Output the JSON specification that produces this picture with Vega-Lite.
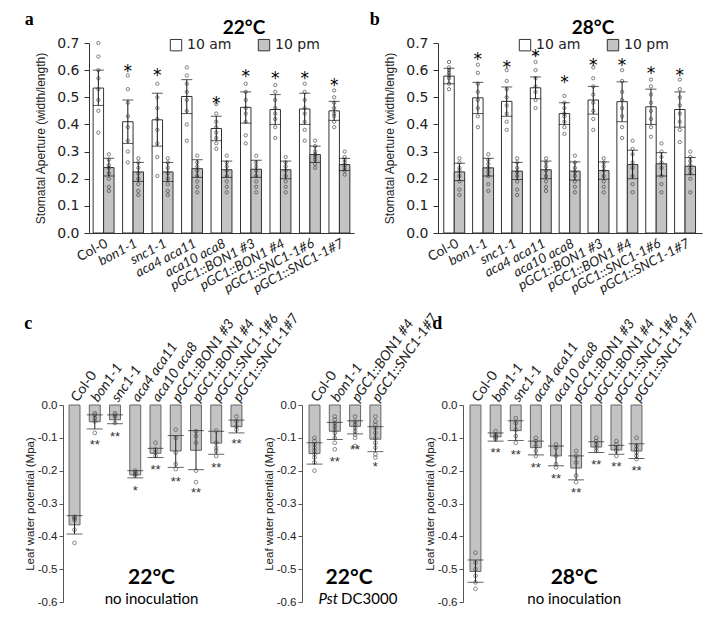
{
  "$schema": "https://vega.github.io/schema/vega-lite/v6.json",
  "padding": {"left": 17, "top": 11, "right": 5, "bottom": 5},
  "background": "white",
  "config": {
    "view": {"stroke": null},
    "font": "Liberation Sans",
    "axis": {"grid": false, "domainColor": "#333", "tickColor": "#333", "labelColor": "#222", "titleColor": "#222", "titleFontWeight": "normal"},
    "axisY": {"labelOverlap": false}
  },
  "datasets": {
    "ab": [
      {"p":"a","g":"Col-0","t":"10 am","m":0.534,"lo":0.47,"hi":0.60},
      {"p":"a","g":"Col-0","t":"10 pm","m":0.241,"lo":0.21,"hi":0.275},
      {"p":"a","g":"bon1-1","t":"10 am","m":0.41,"lo":0.33,"hi":0.49,"s":0.609},
      {"p":"a","g":"bon1-1","t":"10 pm","m":0.225,"lo":0.19,"hi":0.26},
      {"p":"a","g":"snc1-1","t":"10 am","m":0.417,"lo":0.32,"hi":0.515,"s":0.592},
      {"p":"a","g":"snc1-1","t":"10 pm","m":0.225,"lo":0.19,"hi":0.26},
      {"p":"a","g":"aca4 aca11","t":"10 am","m":0.503,"lo":0.44,"hi":0.565},
      {"p":"a","g":"aca4 aca11","t":"10 pm","m":0.237,"lo":0.205,"hi":0.27},
      {"p":"a","g":"aca10 aca8","t":"10 am","m":0.385,"lo":0.34,"hi":0.43,"s":0.489},
      {"p":"a","g":"aca10 aca8","t":"10 pm","m":0.233,"lo":0.205,"hi":0.265},
      {"p":"a","g":"pGC1::BON1 #3","t":"10 am","m":0.463,"lo":0.405,"hi":0.52,"s":0.59},
      {"p":"a","g":"pGC1::BON1 #3","t":"10 pm","m":0.235,"lo":0.205,"hi":0.268},
      {"p":"a","g":"pGC1::BON1 #4","t":"10 am","m":0.455,"lo":0.40,"hi":0.51,"s":0.583},
      {"p":"a","g":"pGC1::BON1 #4","t":"10 pm","m":0.233,"lo":0.20,"hi":0.265},
      {"p":"a","g":"pGC1::SNC1-1#6","t":"10 am","m":0.457,"lo":0.40,"hi":0.515,"s":0.583},
      {"p":"a","g":"pGC1::SNC1-1#6","t":"10 pm","m":0.289,"lo":0.26,"hi":0.32},
      {"p":"a","g":"pGC1::SNC1-1#7","t":"10 am","m":0.45,"lo":0.415,"hi":0.485,"s":0.556},
      {"p":"a","g":"pGC1::SNC1-1#7","t":"10 pm","m":0.252,"lo":0.23,"hi":0.275},
      {"p":"b","g":"Col-0","t":"10 am","m":0.578,"lo":0.55,"hi":0.607},
      {"p":"b","g":"Col-0","t":"10 pm","m":0.225,"lo":0.193,"hi":0.257},
      {"p":"b","g":"bon1-1","t":"10 am","m":0.498,"lo":0.44,"hi":0.555,"s":0.651},
      {"p":"b","g":"bon1-1","t":"10 pm","m":0.24,"lo":0.21,"hi":0.275},
      {"p":"b","g":"snc1-1","t":"10 am","m":0.485,"lo":0.43,"hi":0.538,"s":0.624},
      {"p":"b","g":"snc1-1","t":"10 pm","m":0.228,"lo":0.197,"hi":0.26},
      {"p":"b","g":"aca4 aca11","t":"10 am","m":0.535,"lo":0.495,"hi":0.575,"s":0.663},
      {"p":"b","g":"aca4 aca11","t":"10 pm","m":0.233,"lo":0.20,"hi":0.265},
      {"p":"b","g":"aca10 aca8","t":"10 am","m":0.44,"lo":0.40,"hi":0.48,"s":0.569},
      {"p":"b","g":"aca10 aca8","t":"10 pm","m":0.228,"lo":0.195,"hi":0.262},
      {"p":"b","g":"pGC1::BON1 #3","t":"10 am","m":0.49,"lo":0.438,"hi":0.54,"s":0.63},
      {"p":"b","g":"pGC1::BON1 #3","t":"10 pm","m":0.23,"lo":0.198,"hi":0.262},
      {"p":"b","g":"pGC1::BON1 #4","t":"10 am","m":0.484,"lo":0.41,"hi":0.557,"s":0.63},
      {"p":"b","g":"pGC1::BON1 #4","t":"10 pm","m":0.252,"lo":0.20,"hi":0.305},
      {"p":"b","g":"pGC1::SNC1-1#6","t":"10 am","m":0.465,"lo":0.40,"hi":0.53,"s":0.60},
      {"p":"b","g":"pGC1::SNC1-1#6","t":"10 pm","m":0.255,"lo":0.21,"hi":0.296},
      {"p":"b","g":"pGC1::SNC1-1#7","t":"10 am","m":0.455,"lo":0.39,"hi":0.52,"s":0.593},
      {"p":"b","g":"pGC1::SNC1-1#7","t":"10 pm","m":0.246,"lo":0.215,"hi":0.278}
    ],
    "abd": [
      {"p":"a","g":"Col-0","t":"10 am","v":0.70},{"p":"a","g":"Col-0","t":"10 am","v":0.65},{"p":"a","g":"Col-0","t":"10 am","v":0.60},{"p":"a","g":"Col-0","t":"10 am","v":0.57},{"p":"a","g":"Col-0","t":"10 am","v":0.53},{"p":"a","g":"Col-0","t":"10 am","v":0.49},{"p":"a","g":"Col-0","t":"10 am","v":0.45},{"p":"a","g":"Col-0","t":"10 am","v":0.37},
      {"p":"a","g":"Col-0","t":"10 pm","v":0.29},{"p":"a","g":"Col-0","t":"10 pm","v":0.27},{"p":"a","g":"Col-0","t":"10 pm","v":0.25},{"p":"a","g":"Col-0","t":"10 pm","v":0.24},{"p":"a","g":"Col-0","t":"10 pm","v":0.22},{"p":"a","g":"Col-0","t":"10 pm","v":0.20},{"p":"a","g":"Col-0","t":"10 pm","v":0.17},{"p":"a","g":"Col-0","t":"10 pm","v":0.155},
      {"p":"a","g":"bon1-1","t":"10 am","v":0.58},{"p":"a","g":"bon1-1","t":"10 am","v":0.53},{"p":"a","g":"bon1-1","t":"10 am","v":0.48},{"p":"a","g":"bon1-1","t":"10 am","v":0.43},{"p":"a","g":"bon1-1","t":"10 am","v":0.39},{"p":"a","g":"bon1-1","t":"10 am","v":0.34},{"p":"a","g":"bon1-1","t":"10 am","v":0.30},{"p":"a","g":"bon1-1","t":"10 am","v":0.26},
      {"p":"a","g":"bon1-1","t":"10 pm","v":0.275},{"p":"a","g":"bon1-1","t":"10 pm","v":0.26},{"p":"a","g":"bon1-1","t":"10 pm","v":0.24},{"p":"a","g":"bon1-1","t":"10 pm","v":0.22},{"p":"a","g":"bon1-1","t":"10 pm","v":0.20},{"p":"a","g":"bon1-1","t":"10 pm","v":0.18},{"p":"a","g":"bon1-1","t":"10 pm","v":0.155},{"p":"a","g":"bon1-1","t":"10 pm","v":0.14},
      {"p":"a","g":"snc1-1","t":"10 am","v":0.55},{"p":"a","g":"snc1-1","t":"10 am","v":0.50},{"p":"a","g":"snc1-1","t":"10 am","v":0.46},{"p":"a","g":"snc1-1","t":"10 am","v":0.42},{"p":"a","g":"snc1-1","t":"10 am","v":0.38},{"p":"a","g":"snc1-1","t":"10 am","v":0.33},{"p":"a","g":"snc1-1","t":"10 am","v":0.28},{"p":"a","g":"snc1-1","t":"10 am","v":0.21},
      {"p":"a","g":"snc1-1","t":"10 pm","v":0.275},{"p":"a","g":"snc1-1","t":"10 pm","v":0.26},{"p":"a","g":"snc1-1","t":"10 pm","v":0.24},{"p":"a","g":"snc1-1","t":"10 pm","v":0.22},{"p":"a","g":"snc1-1","t":"10 pm","v":0.20},{"p":"a","g":"snc1-1","t":"10 pm","v":0.18},{"p":"a","g":"snc1-1","t":"10 pm","v":0.155},{"p":"a","g":"snc1-1","t":"10 pm","v":0.14},
      {"p":"a","g":"aca4 aca11","t":"10 am","v":0.61},{"p":"a","g":"aca4 aca11","t":"10 am","v":0.58},{"p":"a","g":"aca4 aca11","t":"10 am","v":0.55},{"p":"a","g":"aca4 aca11","t":"10 am","v":0.52},{"p":"a","g":"aca4 aca11","t":"10 am","v":0.49},{"p":"a","g":"aca4 aca11","t":"10 am","v":0.45},{"p":"a","g":"aca4 aca11","t":"10 am","v":0.40},{"p":"a","g":"aca4 aca11","t":"10 am","v":0.34},
      {"p":"a","g":"aca4 aca11","t":"10 pm","v":0.285},{"p":"a","g":"aca4 aca11","t":"10 pm","v":0.26},{"p":"a","g":"aca4 aca11","t":"10 pm","v":0.245},{"p":"a","g":"aca4 aca11","t":"10 pm","v":0.23},{"p":"a","g":"aca4 aca11","t":"10 pm","v":0.21},{"p":"a","g":"aca4 aca11","t":"10 pm","v":0.19},{"p":"a","g":"aca4 aca11","t":"10 pm","v":0.17},{"p":"a","g":"aca4 aca11","t":"10 pm","v":0.15},
      {"p":"a","g":"aca10 aca8","t":"10 am","v":0.475},{"p":"a","g":"aca10 aca8","t":"10 am","v":0.44},{"p":"a","g":"aca10 aca8","t":"10 am","v":0.41},{"p":"a","g":"aca10 aca8","t":"10 am","v":0.39},{"p":"a","g":"aca10 aca8","t":"10 am","v":0.37},{"p":"a","g":"aca10 aca8","t":"10 am","v":0.35},{"p":"a","g":"aca10 aca8","t":"10 am","v":0.33},{"p":"a","g":"aca10 aca8","t":"10 am","v":0.31},
      {"p":"a","g":"aca10 aca8","t":"10 pm","v":0.285},{"p":"a","g":"aca10 aca8","t":"10 pm","v":0.26},{"p":"a","g":"aca10 aca8","t":"10 pm","v":0.245},{"p":"a","g":"aca10 aca8","t":"10 pm","v":0.23},{"p":"a","g":"aca10 aca8","t":"10 pm","v":0.21},{"p":"a","g":"aca10 aca8","t":"10 pm","v":0.19},{"p":"a","g":"aca10 aca8","t":"10 pm","v":0.17},{"p":"a","g":"aca10 aca8","t":"10 pm","v":0.15},
      {"p":"a","g":"pGC1::BON1 #3","t":"10 am","v":0.55},{"p":"a","g":"pGC1::BON1 #3","t":"10 am","v":0.52},{"p":"a","g":"pGC1::BON1 #3","t":"10 am","v":0.49},{"p":"a","g":"pGC1::BON1 #3","t":"10 am","v":0.46},{"p":"a","g":"pGC1::BON1 #3","t":"10 am","v":0.44},{"p":"a","g":"pGC1::BON1 #3","t":"10 am","v":0.41},{"p":"a","g":"pGC1::BON1 #3","t":"10 am","v":0.36},{"p":"a","g":"pGC1::BON1 #3","t":"10 am","v":0.33},
      {"p":"a","g":"pGC1::BON1 #3","t":"10 pm","v":0.285},{"p":"a","g":"pGC1::BON1 #3","t":"10 pm","v":0.26},{"p":"a","g":"pGC1::BON1 #3","t":"10 pm","v":0.245},{"p":"a","g":"pGC1::BON1 #3","t":"10 pm","v":0.23},{"p":"a","g":"pGC1::BON1 #3","t":"10 pm","v":0.21},{"p":"a","g":"pGC1::BON1 #3","t":"10 pm","v":0.19},{"p":"a","g":"pGC1::BON1 #3","t":"10 pm","v":0.17},{"p":"a","g":"pGC1::BON1 #3","t":"10 pm","v":0.15},
      {"p":"a","g":"pGC1::BON1 #4","t":"10 am","v":0.545},{"p":"a","g":"pGC1::BON1 #4","t":"10 am","v":0.52},{"p":"a","g":"pGC1::BON1 #4","t":"10 am","v":0.49},{"p":"a","g":"pGC1::BON1 #4","t":"10 am","v":0.46},{"p":"a","g":"pGC1::BON1 #4","t":"10 am","v":0.44},{"p":"a","g":"pGC1::BON1 #4","t":"10 am","v":0.42},{"p":"a","g":"pGC1::BON1 #4","t":"10 am","v":0.39},{"p":"a","g":"pGC1::BON1 #4","t":"10 am","v":0.35},
      {"p":"a","g":"pGC1::BON1 #4","t":"10 pm","v":0.28},{"p":"a","g":"pGC1::BON1 #4","t":"10 pm","v":0.26},{"p":"a","g":"pGC1::BON1 #4","t":"10 pm","v":0.245},{"p":"a","g":"pGC1::BON1 #4","t":"10 pm","v":0.23},{"p":"a","g":"pGC1::BON1 #4","t":"10 pm","v":0.21},{"p":"a","g":"pGC1::BON1 #4","t":"10 pm","v":0.19},{"p":"a","g":"pGC1::BON1 #4","t":"10 pm","v":0.17},{"p":"a","g":"pGC1::BON1 #4","t":"10 pm","v":0.15},
      {"p":"a","g":"pGC1::SNC1-1#6","t":"10 am","v":0.55},{"p":"a","g":"pGC1::SNC1-1#6","t":"10 am","v":0.52},{"p":"a","g":"pGC1::SNC1-1#6","t":"10 am","v":0.49},{"p":"a","g":"pGC1::SNC1-1#6","t":"10 am","v":0.46},{"p":"a","g":"pGC1::SNC1-1#6","t":"10 am","v":0.44},{"p":"a","g":"pGC1::SNC1-1#6","t":"10 am","v":0.41},{"p":"a","g":"pGC1::SNC1-1#6","t":"10 am","v":0.38},{"p":"a","g":"pGC1::SNC1-1#6","t":"10 am","v":0.34},
      {"p":"a","g":"pGC1::SNC1-1#6","t":"10 pm","v":0.34},{"p":"a","g":"pGC1::SNC1-1#6","t":"10 pm","v":0.32},{"p":"a","g":"pGC1::SNC1-1#6","t":"10 pm","v":0.30},{"p":"a","g":"pGC1::SNC1-1#6","t":"10 pm","v":0.29},{"p":"a","g":"pGC1::SNC1-1#6","t":"10 pm","v":0.28},{"p":"a","g":"pGC1::SNC1-1#6","t":"10 pm","v":0.27},{"p":"a","g":"pGC1::SNC1-1#6","t":"10 pm","v":0.255},{"p":"a","g":"pGC1::SNC1-1#6","t":"10 pm","v":0.24},
      {"p":"a","g":"pGC1::SNC1-1#7","t":"10 am","v":0.525},{"p":"a","g":"pGC1::SNC1-1#7","t":"10 am","v":0.50},{"p":"a","g":"pGC1::SNC1-1#7","t":"10 am","v":0.48},{"p":"a","g":"pGC1::SNC1-1#7","t":"10 am","v":0.46},{"p":"a","g":"pGC1::SNC1-1#7","t":"10 am","v":0.44},{"p":"a","g":"pGC1::SNC1-1#7","t":"10 am","v":0.43},{"p":"a","g":"pGC1::SNC1-1#7","t":"10 am","v":0.41},{"p":"a","g":"pGC1::SNC1-1#7","t":"10 am","v":0.39},
      {"p":"a","g":"pGC1::SNC1-1#7","t":"10 pm","v":0.30},{"p":"a","g":"pGC1::SNC1-1#7","t":"10 pm","v":0.28},{"p":"a","g":"pGC1::SNC1-1#7","t":"10 pm","v":0.27},{"p":"a","g":"pGC1::SNC1-1#7","t":"10 pm","v":0.26},{"p":"a","g":"pGC1::SNC1-1#7","t":"10 pm","v":0.25},{"p":"a","g":"pGC1::SNC1-1#7","t":"10 pm","v":0.24},{"p":"a","g":"pGC1::SNC1-1#7","t":"10 pm","v":0.23},{"p":"a","g":"pGC1::SNC1-1#7","t":"10 pm","v":0.215},
      {"p":"b","g":"Col-0","t":"10 am","v":0.63},{"p":"b","g":"Col-0","t":"10 am","v":0.61},{"p":"b","g":"Col-0","t":"10 am","v":0.60},{"p":"b","g":"Col-0","t":"10 am","v":0.59},{"p":"b","g":"Col-0","t":"10 am","v":0.58},{"p":"b","g":"Col-0","t":"10 am","v":0.57},{"p":"b","g":"Col-0","t":"10 am","v":0.55},{"p":"b","g":"Col-0","t":"10 am","v":0.53},
      {"p":"b","g":"Col-0","t":"10 pm","v":0.275},{"p":"b","g":"Col-0","t":"10 pm","v":0.26},{"p":"b","g":"Col-0","t":"10 pm","v":0.24},{"p":"b","g":"Col-0","t":"10 pm","v":0.23},{"p":"b","g":"Col-0","t":"10 pm","v":0.21},{"p":"b","g":"Col-0","t":"10 pm","v":0.19},{"p":"b","g":"Col-0","t":"10 pm","v":0.16},{"p":"b","g":"Col-0","t":"10 pm","v":0.14},
      {"p":"b","g":"bon1-1","t":"10 am","v":0.62},{"p":"b","g":"bon1-1","t":"10 am","v":0.59},{"p":"b","g":"bon1-1","t":"10 am","v":0.55},{"p":"b","g":"bon1-1","t":"10 am","v":0.52},{"p":"b","g":"bon1-1","t":"10 am","v":0.49},{"p":"b","g":"bon1-1","t":"10 am","v":0.46},{"p":"b","g":"bon1-1","t":"10 am","v":0.43},{"p":"b","g":"bon1-1","t":"10 am","v":0.39},
      {"p":"b","g":"bon1-1","t":"10 pm","v":0.29},{"p":"b","g":"bon1-1","t":"10 pm","v":0.27},{"p":"b","g":"bon1-1","t":"10 pm","v":0.255},{"p":"b","g":"bon1-1","t":"10 pm","v":0.24},{"p":"b","g":"bon1-1","t":"10 pm","v":0.225},{"p":"b","g":"bon1-1","t":"10 pm","v":0.21},{"p":"b","g":"bon1-1","t":"10 pm","v":0.18},{"p":"b","g":"bon1-1","t":"10 pm","v":0.155},
      {"p":"b","g":"snc1-1","t":"10 am","v":0.60},{"p":"b","g":"snc1-1","t":"10 am","v":0.56},{"p":"b","g":"snc1-1","t":"10 am","v":0.53},{"p":"b","g":"snc1-1","t":"10 am","v":0.50},{"p":"b","g":"snc1-1","t":"10 am","v":0.47},{"p":"b","g":"snc1-1","t":"10 am","v":0.44},{"p":"b","g":"snc1-1","t":"10 am","v":0.41},{"p":"b","g":"snc1-1","t":"10 am","v":0.38},
      {"p":"b","g":"snc1-1","t":"10 pm","v":0.275},{"p":"b","g":"snc1-1","t":"10 pm","v":0.26},{"p":"b","g":"snc1-1","t":"10 pm","v":0.24},{"p":"b","g":"snc1-1","t":"10 pm","v":0.225},{"p":"b","g":"snc1-1","t":"10 pm","v":0.21},{"p":"b","g":"snc1-1","t":"10 pm","v":0.19},{"p":"b","g":"snc1-1","t":"10 pm","v":0.16},{"p":"b","g":"snc1-1","t":"10 pm","v":0.14},
      {"p":"b","g":"aca4 aca11","t":"10 am","v":0.66},{"p":"b","g":"aca4 aca11","t":"10 am","v":0.63},{"p":"b","g":"aca4 aca11","t":"10 am","v":0.60},{"p":"b","g":"aca4 aca11","t":"10 am","v":0.57},{"p":"b","g":"aca4 aca11","t":"10 am","v":0.54},{"p":"b","g":"aca4 aca11","t":"10 am","v":0.52},{"p":"b","g":"aca4 aca11","t":"10 am","v":0.49},{"p":"b","g":"aca4 aca11","t":"10 am","v":0.46},
      {"p":"b","g":"aca4 aca11","t":"10 pm","v":0.275},{"p":"b","g":"aca4 aca11","t":"10 pm","v":0.26},{"p":"b","g":"aca4 aca11","t":"10 pm","v":0.245},{"p":"b","g":"aca4 aca11","t":"10 pm","v":0.23},{"p":"b","g":"aca4 aca11","t":"10 pm","v":0.21},{"p":"b","g":"aca4 aca11","t":"10 pm","v":0.19},{"p":"b","g":"aca4 aca11","t":"10 pm","v":0.17},{"p":"b","g":"aca4 aca11","t":"10 pm","v":0.155},
      {"p":"b","g":"aca10 aca8","t":"10 am","v":0.505},{"p":"b","g":"aca10 aca8","t":"10 am","v":0.48},{"p":"b","g":"aca10 aca8","t":"10 am","v":0.46},{"p":"b","g":"aca10 aca8","t":"10 am","v":0.44},{"p":"b","g":"aca10 aca8","t":"10 am","v":0.43},{"p":"b","g":"aca10 aca8","t":"10 am","v":0.41},{"p":"b","g":"aca10 aca8","t":"10 am","v":0.39},{"p":"b","g":"aca10 aca8","t":"10 am","v":0.365},
      {"p":"b","g":"aca10 aca8","t":"10 pm","v":0.285},{"p":"b","g":"aca10 aca8","t":"10 pm","v":0.26},{"p":"b","g":"aca10 aca8","t":"10 pm","v":0.24},{"p":"b","g":"aca10 aca8","t":"10 pm","v":0.225},{"p":"b","g":"aca10 aca8","t":"10 pm","v":0.21},{"p":"b","g":"aca10 aca8","t":"10 pm","v":0.19},{"p":"b","g":"aca10 aca8","t":"10 pm","v":0.17},{"p":"b","g":"aca10 aca8","t":"10 pm","v":0.15},
      {"p":"b","g":"pGC1::BON1 #3","t":"10 am","v":0.61},{"p":"b","g":"pGC1::BON1 #3","t":"10 am","v":0.57},{"p":"b","g":"pGC1::BON1 #3","t":"10 am","v":0.54},{"p":"b","g":"pGC1::BON1 #3","t":"10 am","v":0.51},{"p":"b","g":"pGC1::BON1 #3","t":"10 am","v":0.48},{"p":"b","g":"pGC1::BON1 #3","t":"10 am","v":0.45},{"p":"b","g":"pGC1::BON1 #3","t":"10 am","v":0.42},{"p":"b","g":"pGC1::BON1 #3","t":"10 am","v":0.38},
      {"p":"b","g":"pGC1::BON1 #3","t":"10 pm","v":0.275},{"p":"b","g":"pGC1::BON1 #3","t":"10 pm","v":0.26},{"p":"b","g":"pGC1::BON1 #3","t":"10 pm","v":0.245},{"p":"b","g":"pGC1::BON1 #3","t":"10 pm","v":0.23},{"p":"b","g":"pGC1::BON1 #3","t":"10 pm","v":0.21},{"p":"b","g":"pGC1::BON1 #3","t":"10 pm","v":0.19},{"p":"b","g":"pGC1::BON1 #3","t":"10 pm","v":0.17},{"p":"b","g":"pGC1::BON1 #3","t":"10 pm","v":0.15},
      {"p":"b","g":"pGC1::BON1 #4","t":"10 am","v":0.60},{"p":"b","g":"pGC1::BON1 #4","t":"10 am","v":0.56},{"p":"b","g":"pGC1::BON1 #4","t":"10 am","v":0.52},{"p":"b","g":"pGC1::BON1 #4","t":"10 am","v":0.49},{"p":"b","g":"pGC1::BON1 #4","t":"10 am","v":0.46},{"p":"b","g":"pGC1::BON1 #4","t":"10 am","v":0.43},{"p":"b","g":"pGC1::BON1 #4","t":"10 am","v":0.39},{"p":"b","g":"pGC1::BON1 #4","t":"10 am","v":0.35},
      {"p":"b","g":"pGC1::BON1 #4","t":"10 pm","v":0.34},{"p":"b","g":"pGC1::BON1 #4","t":"10 pm","v":0.31},{"p":"b","g":"pGC1::BON1 #4","t":"10 pm","v":0.29},{"p":"b","g":"pGC1::BON1 #4","t":"10 pm","v":0.26},{"p":"b","g":"pGC1::BON1 #4","t":"10 pm","v":0.24},{"p":"b","g":"pGC1::BON1 #4","t":"10 pm","v":0.21},{"p":"b","g":"pGC1::BON1 #4","t":"10 pm","v":0.18},{"p":"b","g":"pGC1::BON1 #4","t":"10 pm","v":0.15},
      {"p":"b","g":"pGC1::SNC1-1#6","t":"10 am","v":0.565},{"p":"b","g":"pGC1::SNC1-1#6","t":"10 am","v":0.54},{"p":"b","g":"pGC1::SNC1-1#6","t":"10 am","v":0.51},{"p":"b","g":"pGC1::SNC1-1#6","t":"10 am","v":0.48},{"p":"b","g":"pGC1::SNC1-1#6","t":"10 am","v":0.45},{"p":"b","g":"pGC1::SNC1-1#6","t":"10 am","v":0.42},{"p":"b","g":"pGC1::SNC1-1#6","t":"10 am","v":0.39},{"p":"b","g":"pGC1::SNC1-1#6","t":"10 am","v":0.355},
      {"p":"b","g":"pGC1::SNC1-1#6","t":"10 pm","v":0.33},{"p":"b","g":"pGC1::SNC1-1#6","t":"10 pm","v":0.30},{"p":"b","g":"pGC1::SNC1-1#6","t":"10 pm","v":0.28},{"p":"b","g":"pGC1::SNC1-1#6","t":"10 pm","v":0.26},{"p":"b","g":"pGC1::SNC1-1#6","t":"10 pm","v":0.24},{"p":"b","g":"pGC1::SNC1-1#6","t":"10 pm","v":0.21},{"p":"b","g":"pGC1::SNC1-1#6","t":"10 pm","v":0.18},{"p":"b","g":"pGC1::SNC1-1#6","t":"10 pm","v":0.15},
      {"p":"b","g":"pGC1::SNC1-1#7","t":"10 am","v":0.565},{"p":"b","g":"pGC1::SNC1-1#7","t":"10 am","v":0.53},{"p":"b","g":"pGC1::SNC1-1#7","t":"10 am","v":0.50},{"p":"b","g":"pGC1::SNC1-1#7","t":"10 am","v":0.47},{"p":"b","g":"pGC1::SNC1-1#7","t":"10 am","v":0.44},{"p":"b","g":"pGC1::SNC1-1#7","t":"10 am","v":0.41},{"p":"b","g":"pGC1::SNC1-1#7","t":"10 am","v":0.38},{"p":"b","g":"pGC1::SNC1-1#7","t":"10 am","v":0.335},
      {"p":"b","g":"pGC1::SNC1-1#7","t":"10 pm","v":0.30},{"p":"b","g":"pGC1::SNC1-1#7","t":"10 pm","v":0.28},{"p":"b","g":"pGC1::SNC1-1#7","t":"10 pm","v":0.265},{"p":"b","g":"pGC1::SNC1-1#7","t":"10 pm","v":0.25},{"p":"b","g":"pGC1::SNC1-1#7","t":"10 pm","v":0.235},{"p":"b","g":"pGC1::SNC1-1#7","t":"10 pm","v":0.22},{"p":"b","g":"pGC1::SNC1-1#7","t":"10 pm","v":0.20},{"p":"b","g":"pGC1::SNC1-1#7","t":"10 pm","v":0.15}
    ],
    "c1": [
      {"g":"Col-0","m":-0.365,"lo":-0.393,"hi":-0.337},
      {"g":"bon1-1","m":-0.051,"lo":-0.073,"hi":-0.030,"sy":-0.11,"st":"**"},
      {"g":"snc1-1","m":-0.045,"lo":-0.057,"hi":-0.030,"sy":-0.085,"st":"**"},
      {"g":"aca4 aca11","m":-0.213,"lo":-0.222,"hi":-0.200,"sy":-0.25,"st":"*"},
      {"g":"aca10 aca8","m":-0.147,"lo":-0.160,"hi":-0.132,"sy":-0.185,"st":"**"},
      {"g":"pGC1::BON1 #3","m":-0.140,"lo":-0.190,"hi":-0.093,"sy":-0.222,"st":"**"},
      {"g":"pGC1::BON1 #4","m":-0.138,"lo":-0.197,"hi":-0.078,"sy":-0.257,"st":"**"},
      {"g":"pGC1::SNC1-1#6","m":-0.116,"lo":-0.150,"hi":-0.080,"sy":-0.18,"st":"**"},
      {"g":"pGC1::SNC1-1#7","m":-0.066,"lo":-0.085,"hi":-0.046,"sy":-0.106,"st":"**"}
    ],
    "c1d": [
      {"g":"Col-0","v":-0.34},{"g":"Col-0","v":-0.345},{"g":"Col-0","v":-0.35},{"g":"Col-0","v":-0.38},{"g":"Col-0","v":-0.42},
      {"g":"bon1-1","v":-0.025},{"g":"bon1-1","v":-0.03},{"g":"bon1-1","v":-0.04},{"g":"bon1-1","v":-0.05},{"g":"bon1-1","v":-0.085},
      {"g":"snc1-1","v":-0.025},{"g":"snc1-1","v":-0.03},{"g":"snc1-1","v":-0.035},{"g":"snc1-1","v":-0.055},
      {"g":"aca4 aca11","v":-0.2},{"g":"aca4 aca11","v":-0.205},{"g":"aca4 aca11","v":-0.21},{"g":"aca4 aca11","v":-0.215},
      {"g":"aca10 aca8","v":-0.115},{"g":"aca10 aca8","v":-0.135},{"g":"aca10 aca8","v":-0.145},{"g":"aca10 aca8","v":-0.155},
      {"g":"pGC1::BON1 #3","v":-0.075},{"g":"pGC1::BON1 #3","v":-0.1},{"g":"pGC1::BON1 #3","v":-0.145},{"g":"pGC1::BON1 #3","v":-0.18},{"g":"pGC1::BON1 #3","v":-0.195},
      {"g":"pGC1::BON1 #4","v":-0.08},{"g":"pGC1::BON1 #4","v":-0.095},{"g":"pGC1::BON1 #4","v":-0.115},{"g":"pGC1::BON1 #4","v":-0.2},{"g":"pGC1::BON1 #4","v":-0.235},
      {"g":"pGC1::SNC1-1#6","v":-0.078},{"g":"pGC1::SNC1-1#6","v":-0.115},{"g":"pGC1::SNC1-1#6","v":-0.13},{"g":"pGC1::SNC1-1#6","v":-0.14},{"g":"pGC1::SNC1-1#6","v":-0.155},
      {"g":"pGC1::SNC1-1#7","v":-0.035},{"g":"pGC1::SNC1-1#7","v":-0.05},{"g":"pGC1::SNC1-1#7","v":-0.065},{"g":"pGC1::SNC1-1#7","v":-0.075}
    ],
    "c2": [
      {"g":"Col-0","m":-0.148,"lo":-0.180,"hi":-0.115},
      {"g":"bon1-1","m":-0.080,"lo":-0.105,"hi":-0.053,"sy":-0.16,"st":"**"},
      {"g":"pGC1::BON1 #4","m":-0.065,"lo":-0.088,"hi":-0.048,"sy":-0.125,"st":"**"},
      {"g":"pGC1::SNC1-1#7","m":-0.104,"lo":-0.142,"hi":-0.066,"sy":-0.178,"st":"*"}
    ],
    "c2d": [
      {"g":"Col-0","v":-0.1},{"g":"Col-0","v":-0.11},{"g":"Col-0","v":-0.12},{"g":"Col-0","v":-0.13},{"g":"Col-0","v":-0.14},{"g":"Col-0","v":-0.15},{"g":"Col-0","v":-0.16},{"g":"Col-0","v":-0.175},{"g":"Col-0","v":-0.2},
      {"g":"bon1-1","v":-0.035},{"g":"bon1-1","v":-0.045},{"g":"bon1-1","v":-0.055},{"g":"bon1-1","v":-0.065},{"g":"bon1-1","v":-0.075},{"g":"bon1-1","v":-0.085},{"g":"bon1-1","v":-0.1},{"g":"bon1-1","v":-0.115},{"g":"bon1-1","v":-0.135},
      {"g":"pGC1::BON1 #4","v":-0.035},{"g":"pGC1::BON1 #4","v":-0.05},{"g":"pGC1::BON1 #4","v":-0.06},{"g":"pGC1::BON1 #4","v":-0.07},{"g":"pGC1::BON1 #4","v":-0.08},{"g":"pGC1::BON1 #4","v":-0.09},{"g":"pGC1::BON1 #4","v":-0.1},{"g":"pGC1::BON1 #4","v":-0.125},
      {"g":"pGC1::SNC1-1#7","v":-0.035},{"g":"pGC1::SNC1-1#7","v":-0.05},{"g":"pGC1::SNC1-1#7","v":-0.06},{"g":"pGC1::SNC1-1#7","v":-0.07},{"g":"pGC1::SNC1-1#7","v":-0.085},{"g":"pGC1::SNC1-1#7","v":-0.1},{"g":"pGC1::SNC1-1#7","v":-0.115},{"g":"pGC1::SNC1-1#7","v":-0.13},{"g":"pGC1::SNC1-1#7","v":-0.15},{"g":"pGC1::SNC1-1#7","v":-0.16}
    ],
    "dd": [
      {"g":"Col-0","m":-0.507,"lo":-0.540,"hi":-0.472},
      {"g":"bon1-1","m":-0.097,"lo":-0.110,"hi":-0.085,"sy":-0.135,"st":"**"},
      {"g":"snc1-1","m":-0.078,"lo":-0.108,"hi":-0.048,"sy":-0.14,"st":"**"},
      {"g":"aca4 aca11","m":-0.130,"lo":-0.152,"hi":-0.110,"sy":-0.18,"st":"**"},
      {"g":"aca10 aca8","m":-0.155,"lo":-0.185,"hi":-0.125,"sy":-0.213,"st":"**"},
      {"g":"pGC1::BON1 #3","m":-0.192,"lo":-0.228,"hi":-0.155,"sy":-0.257,"st":"**"},
      {"g":"pGC1::BON1 #4","m":-0.128,"lo":-0.145,"hi":-0.112,"sy":-0.17,"st":"**"},
      {"g":"pGC1::SNC1-1#6","m":-0.137,"lo":-0.150,"hi":-0.123,"sy":-0.177,"st":"**"},
      {"g":"pGC1::SNC1-1#7","m":-0.140,"lo":-0.163,"hi":-0.118,"sy":-0.19,"st":"**"}
    ],
    "ddd": [
      {"g":"Col-0","v":-0.45},{"g":"Col-0","v":-0.48},{"g":"Col-0","v":-0.5},{"g":"Col-0","v":-0.52},{"g":"Col-0","v":-0.54},{"g":"Col-0","v":-0.56},
      {"g":"bon1-1","v":-0.08},{"g":"bon1-1","v":-0.09},{"g":"bon1-1","v":-0.095},{"g":"bon1-1","v":-0.1},{"g":"bon1-1","v":-0.105},
      {"g":"snc1-1","v":-0.04},{"g":"snc1-1","v":-0.055},{"g":"snc1-1","v":-0.075},{"g":"snc1-1","v":-0.095},{"g":"snc1-1","v":-0.115},
      {"g":"aca4 aca11","v":-0.1},{"g":"aca4 aca11","v":-0.11},{"g":"aca4 aca11","v":-0.125},{"g":"aca4 aca11","v":-0.14},{"g":"aca4 aca11","v":-0.155},
      {"g":"aca10 aca8","v":-0.12},{"g":"aca10 aca8","v":-0.13},{"g":"aca10 aca8","v":-0.155},{"g":"aca10 aca8","v":-0.18},{"g":"aca10 aca8","v":-0.19},
      {"g":"pGC1::BON1 #3","v":-0.14},{"g":"pGC1::BON1 #3","v":-0.155},{"g":"pGC1::BON1 #3","v":-0.175},{"g":"pGC1::BON1 #3","v":-0.215},{"g":"pGC1::BON1 #3","v":-0.235},
      {"g":"pGC1::BON1 #4","v":-0.1},{"g":"pGC1::BON1 #4","v":-0.11},{"g":"pGC1::BON1 #4","v":-0.12},{"g":"pGC1::BON1 #4","v":-0.13},{"g":"pGC1::BON1 #4","v":-0.14},
      {"g":"pGC1::SNC1-1#6","v":-0.11},{"g":"pGC1::SNC1-1#6","v":-0.12},{"g":"pGC1::SNC1-1#6","v":-0.13},{"g":"pGC1::SNC1-1#6","v":-0.14},{"g":"pGC1::SNC1-1#6","v":-0.155},
      {"g":"pGC1::SNC1-1#7","v":-0.1},{"g":"pGC1::SNC1-1#7","v":-0.125},{"g":"pGC1::SNC1-1#7","v":-0.135},{"g":"pGC1::SNC1-1#7","v":-0.145},{"g":"pGC1::SNC1-1#7","v":-0.155},{"g":"pGC1::SNC1-1#7","v":-0.165}
    ]
  },
  "spacing": 15,
  "vconcat": [
    {
      "spacing": 0,
      "resolve": {"scale": {"fill": "independent"}, "legend": {"fill": "independent"}},
      "hconcat": [
        {"width": 1, "height": 1, "data": {"values": [{}]}, "mark": {"type": "point", "opacity": 0}, "encoding": {}},
        {
          "bounds": "flush",
          "spacing": 84,
          "resolve": {"scale": {"fill": "independent"}, "legend": {"fill": "independent"}},
          "hconcat": [
            {
              "width": 265, "height": 190,
              "title": {"text": "a", "anchor": "start", "frame": "bounds", "font": "Liberation Serif", "fontSize": 18, "fontWeight": "bold", "color": "#000", "dy": 14, "dx": -10},
              "layer": [
                {"data": {"name": "ab"}, "transform": [{"filter": "datum.p == 'a'"}],
                 "mark": {"type": "bar", "stroke": "#333", "strokeWidth": 1},
                 "encoding": {
                   "x": {"field": "g", "type": "nominal", "sort": ["Col-0","bon1-1","snc1-1","aca4 aca11","aca10 aca8","pGC1::BON1 #3","pGC1::BON1 #4","pGC1::SNC1-1#6","pGC1::SNC1-1#7"], "scale": {"paddingInner": 0.29, "paddingOuter": 0.14},
                         "axis": {"title": null, "labelAngle": -28, "labelAlign": "right", "labelBaseline": "top", "labelFont": "Lato", "labelFontSize": 13.5, "labelColor": "#222", "labelOverlap": false, "labelPadding": 3, "ticks": false, "domainColor": "#333",
                                  "labelFontStyle": {"condition": {"test": "datum.value == 'Col-0'", "value": "normal"}, "value": "italic"}}},
                   "xOffset": {"field": "t", "type": "nominal", "sort": ["10 am","10 pm"]},
                   "y": {"field": "m", "type": "quantitative", "stack": null, "scale": {"domain": [0, 0.7], "nice": false},
                         "axis": {"title": "Stomatal Aperture (width/length)", "tickCount": 7, "format": ".1f", "labelOverlap": false, "labelFont": "DejaVu Sans", "labelFontSize": 14, "labelPadding": 5, "titleFont": "Liberation Sans", "titleFontSize": 12, "tickSize": 5, "titlePadding": 9}},
                   "fill": {"field": "t", "type": "nominal", "scale": {"domain": ["10 am","10 pm"], "range": ["#ffffff", "#c3c3c3"]},
                            "legend": {"title": "22°C", "orient": "none", "legendX": 80, "legendY": -24, "direction": "horizontal", "titleAnchor": "middle", "titleFont": "Lato", "titleFontSize": 19, "titleFontWeight": "bold", "titleColor": "#000", "titlePadding": 0, "symbolType": "square", "symbolSize": 130, "symbolStrokeColor": "#333", "symbolStrokeWidth": 1, "labelFont": "DejaVu Sans", "labelFontSize": 14, "labelColor": "#222", "columnPadding": 24}}
                 }},
                {"data": {"name": "ab"}, "transform": [{"filter": "datum.p == 'a'"}],
                 "mark": {"type": "rule", "color": "#111", "strokeWidth": 1},
                 "encoding": {"x": {"field": "g", "type": "nominal", "sort": ["Col-0","bon1-1","snc1-1","aca4 aca11","aca10 aca8","pGC1::BON1 #3","pGC1::BON1 #4","pGC1::SNC1-1#6","pGC1::SNC1-1#7"]}, "xOffset": {"field": "t", "type": "nominal", "sort": ["10 am","10 pm"]},
                   "y": {"field": "lo", "type": "quantitative"}, "y2": {"field": "hi"}}},
                {"data": {"name": "abd"}, "transform": [{"filter": "datum.p == 'a'"}],
                 "mark": {"type": "point", "shape": "circle", "filled": false, "size": 11, "stroke": "#333", "strokeWidth": 0.9},
                 "encoding": {"x": {"field": "g", "type": "nominal", "sort": ["Col-0","bon1-1","snc1-1","aca4 aca11","aca10 aca8","pGC1::BON1 #3","pGC1::BON1 #4","pGC1::SNC1-1#6","pGC1::SNC1-1#7"]}, "xOffset": {"field": "t", "type": "nominal", "sort": ["10 am","10 pm"]},
                   "y": {"field": "v", "type": "quantitative"}}},
                {"data": {"name": "ab"}, "transform": [{"filter": "datum.p == 'a'"}],
                 "mark": {"type": "tick", "orient": "horizontal", "size": 11, "thickness": 1, "color": "#111"},
                 "encoding": {"x": {"field": "g", "type": "nominal", "sort": ["Col-0","bon1-1","snc1-1","aca4 aca11","aca10 aca8","pGC1::BON1 #3","pGC1::BON1 #4","pGC1::SNC1-1#6","pGC1::SNC1-1#7"]}, "xOffset": {"field": "t", "type": "nominal", "sort": ["10 am","10 pm"]},
                   "y": {"field": "lo", "type": "quantitative"}}},
                {"data": {"name": "ab"}, "transform": [{"filter": "datum.p == 'a'"}],
                 "mark": {"type": "tick", "orient": "horizontal", "size": 11, "thickness": 1, "color": "#111"},
                 "encoding": {"x": {"field": "g", "type": "nominal", "sort": ["Col-0","bon1-1","snc1-1","aca4 aca11","aca10 aca8","pGC1::BON1 #3","pGC1::BON1 #4","pGC1::SNC1-1#6","pGC1::SNC1-1#7"]}, "xOffset": {"field": "t", "type": "nominal", "sort": ["10 am","10 pm"]},
                   "y": {"field": "hi", "type": "quantitative"}}},
                {"data": {"name": "ab"}, "transform": [{"filter": "datum.p == 'a' && datum.s != null"}],
                 "mark": {"type": "text", "text": "*", "font": "DejaVu Sans", "fontSize": 17, "color": "#000", "baseline": "middle", "dy": 4},
                 "encoding": {"x": {"field": "g", "type": "nominal", "sort": ["Col-0","bon1-1","snc1-1","aca4 aca11","aca10 aca8","pGC1::BON1 #3","pGC1::BON1 #4","pGC1::SNC1-1#6","pGC1::SNC1-1#7"]}, "xOffset": {"field": "t", "type": "nominal", "sort": ["10 am","10 pm"]},
                   "y": {"field": "s", "type": "quantitative"}}}
              ]
            },
            {
              "width": 264, "height": 190,
              "title": {"text": "b", "anchor": "start", "frame": "bounds", "font": "Liberation Serif", "fontSize": 18, "fontWeight": "bold", "color": "#000", "dy": 14, "dx": -14},
              "layer": [
                {"data": {"name": "ab"}, "transform": [{"filter": "datum.p == 'b'"}],
                 "mark": {"type": "bar", "stroke": "#333", "strokeWidth": 1},
                 "encoding": {
                   "x": {"field": "g", "type": "nominal", "sort": ["Col-0","bon1-1","snc1-1","aca4 aca11","aca10 aca8","pGC1::BON1 #3","pGC1::BON1 #4","pGC1::SNC1-1#6","pGC1::SNC1-1#7"], "scale": {"paddingInner": 0.25, "paddingOuter": 0.2},
                         "axis": {"title": null, "labelAngle": -28, "labelAlign": "right", "labelBaseline": "top", "labelFont": "Lato", "labelFontSize": 13.5, "labelColor": "#222", "labelOverlap": false, "labelPadding": 3, "ticks": false, "domainColor": "#333",
                                  "labelFontStyle": {"condition": {"test": "datum.value == 'Col-0'", "value": "normal"}, "value": "italic"}}},
                   "xOffset": {"field": "t", "type": "nominal", "sort": ["10 am","10 pm"]},
                   "y": {"field": "m", "type": "quantitative", "stack": null, "scale": {"domain": [0, 0.7], "nice": false},
                         "axis": {"title": "Stomatal Aperture (width/length)", "tickCount": 7, "format": ".1f", "labelOverlap": false, "labelFont": "DejaVu Sans", "labelFontSize": 14, "labelPadding": 5, "titleFont": "Liberation Sans", "titleFontSize": 12, "tickSize": 5, "titlePadding": 9}},
                   "fill": {"field": "t", "type": "nominal", "scale": {"domain": ["10 am","10 pm"], "range": ["#ffffff", "#c3c3c3"]},
                            "legend": {"title": "28°C", "orient": "none", "legendX": 80, "legendY": -24, "direction": "horizontal", "titleAnchor": "middle", "titleFont": "Lato", "titleFontSize": 19, "titleFontWeight": "bold", "titleColor": "#000", "titlePadding": 0, "symbolType": "square", "symbolSize": 130, "symbolStrokeColor": "#333", "symbolStrokeWidth": 1, "labelFont": "DejaVu Sans", "labelFontSize": 14, "labelColor": "#222", "columnPadding": 24}}
                 }},
                {"data": {"name": "ab"}, "transform": [{"filter": "datum.p == 'b'"}],
                 "mark": {"type": "rule", "color": "#111", "strokeWidth": 1},
                 "encoding": {"x": {"field": "g", "type": "nominal", "sort": ["Col-0","bon1-1","snc1-1","aca4 aca11","aca10 aca8","pGC1::BON1 #3","pGC1::BON1 #4","pGC1::SNC1-1#6","pGC1::SNC1-1#7"]}, "xOffset": {"field": "t", "type": "nominal", "sort": ["10 am","10 pm"]},
                   "y": {"field": "lo", "type": "quantitative"}, "y2": {"field": "hi"}}},
                {"data": {"name": "abd"}, "transform": [{"filter": "datum.p == 'b'"}],
                 "mark": {"type": "point", "shape": "circle", "filled": false, "size": 11, "stroke": "#333", "strokeWidth": 0.9},
                 "encoding": {"x": {"field": "g", "type": "nominal", "sort": ["Col-0","bon1-1","snc1-1","aca4 aca11","aca10 aca8","pGC1::BON1 #3","pGC1::BON1 #4","pGC1::SNC1-1#6","pGC1::SNC1-1#7"]}, "xOffset": {"field": "t", "type": "nominal", "sort": ["10 am","10 pm"]},
                   "y": {"field": "v", "type": "quantitative"}}},
                {"data": {"name": "ab"}, "transform": [{"filter": "datum.p == 'b'"}],
                 "mark": {"type": "tick", "orient": "horizontal", "size": 11, "thickness": 1, "color": "#111"},
                 "encoding": {"x": {"field": "g", "type": "nominal", "sort": ["Col-0","bon1-1","snc1-1","aca4 aca11","aca10 aca8","pGC1::BON1 #3","pGC1::BON1 #4","pGC1::SNC1-1#6","pGC1::SNC1-1#7"]}, "xOffset": {"field": "t", "type": "nominal", "sort": ["10 am","10 pm"]},
                   "y": {"field": "lo", "type": "quantitative"}}},
                {"data": {"name": "ab"}, "transform": [{"filter": "datum.p == 'b'"}],
                 "mark": {"type": "tick", "orient": "horizontal", "size": 11, "thickness": 1, "color": "#111"},
                 "encoding": {"x": {"field": "g", "type": "nominal", "sort": ["Col-0","bon1-1","snc1-1","aca4 aca11","aca10 aca8","pGC1::BON1 #3","pGC1::BON1 #4","pGC1::SNC1-1#6","pGC1::SNC1-1#7"]}, "xOffset": {"field": "t", "type": "nominal", "sort": ["10 am","10 pm"]},
                   "y": {"field": "hi", "type": "quantitative"}}},
                {"data": {"name": "ab"}, "transform": [{"filter": "datum.p == 'b' && datum.s != null"}],
                 "mark": {"type": "text", "text": "*", "font": "DejaVu Sans", "fontSize": 17, "color": "#000", "baseline": "middle", "dy": 4},
                 "encoding": {"x": {"field": "g", "type": "nominal", "sort": ["Col-0","bon1-1","snc1-1","aca4 aca11","aca10 aca8","pGC1::BON1 #3","pGC1::BON1 #4","pGC1::SNC1-1#6","pGC1::SNC1-1#7"]}, "xOffset": {"field": "t", "type": "nominal", "sort": ["10 am","10 pm"]},
                   "y": {"field": "s", "type": "quantitative"}}}
              ]
            }
          ]
        }
      ]
    },
    {
      "spacing": 0,
      "hconcat": [
        {"width": 1, "height": 1, "data": {"values": [{}]}, "mark": {"type": "point", "opacity": 0}, "encoding": {}},
        {
          "bounds": "flush",
          "spacing": 54,
          "hconcat": [
            {
              "width": 185, "height": 197,
              "title": {"text": "c", "anchor": "start", "frame": "bounds", "font": "Liberation Serif", "fontSize": 18, "fontWeight": "bold", "color": "#000", "offset": -22},
              "layer": [
                {"data": {"name": "c1"},
                 "mark": {"type": "bar", "fill": "#c3c3c3", "stroke": "#666", "strokeWidth": 1},
                 "encoding": {
                   "x": {"field": "g", "type": "nominal", "sort": ["Col-0","bon1-1","snc1-1","aca4 aca11","aca10 aca8","pGC1::BON1 #3","pGC1::BON1 #4","pGC1::SNC1-1#6","pGC1::SNC1-1#7"], "scale": {"paddingInner": 0.46, "paddingOuter": 0.3},
                         "axis": {"orient": "top", "title": null, "labelAngle": -55, "labelAlign": "left", "labelBaseline": "middle", "labelFont": "Lato", "labelFontSize": 14, "labelColor": "#222", "labelOverlap": false, "labelPadding": 5, "ticks": false, "domain": false,
                                  "labelFontStyle": {"condition": {"test": "datum.value == 'Col-0'", "value": "normal"}, "value": "italic"}}},
                   "y": {"field": "m", "type": "quantitative", "stack": null, "scale": {"domain": [-0.6, 0], "nice": false},
                         "axis": {"title": "Leaf water potential (Mpa)", "tickCount": 6, "labelOverlap": false, "labelExpr": "datum.value < -0.001 ? '-' + format(-datum.value, '.1f') : '0.0'", "labelFontSize": 11.5, "titleFontSize": 11.5, "tickSize": 4, "titlePadding": 2, "domainColor": "#555", "tickColor": "#555"}}
                 }},
                {"data": {"name": "c1"}, "mark": {"type": "rule", "color": "#222", "strokeWidth": 1},
                 "encoding": {"x": {"field": "g", "type": "nominal", "sort": ["Col-0","bon1-1","snc1-1","aca4 aca11","aca10 aca8","pGC1::BON1 #3","pGC1::BON1 #4","pGC1::SNC1-1#6","pGC1::SNC1-1#7"]},
                   "y": {"field": "lo", "type": "quantitative"}, "y2": {"field": "hi"}}},
                {"data": {"name": "c1"}, "mark": {"type": "tick", "orient": "horizontal", "size": 16, "thickness": 1, "color": "#222"},
                 "encoding": {"x": {"field": "g", "type": "nominal", "sort": ["Col-0","bon1-1","snc1-1","aca4 aca11","aca10 aca8","pGC1::BON1 #3","pGC1::BON1 #4","pGC1::SNC1-1#6","pGC1::SNC1-1#7"]},
                   "y": {"field": "lo", "type": "quantitative"}}},
                {"data": {"name": "c1"}, "mark": {"type": "tick", "orient": "horizontal", "size": 16, "thickness": 1, "color": "#222"},
                 "encoding": {"x": {"field": "g", "type": "nominal", "sort": ["Col-0","bon1-1","snc1-1","aca4 aca11","aca10 aca8","pGC1::BON1 #3","pGC1::BON1 #4","pGC1::SNC1-1#6","pGC1::SNC1-1#7"]},
                   "y": {"field": "hi", "type": "quantitative"}}},
                {"data": {"name": "c1d"}, "mark": {"type": "point", "shape": "circle", "filled": false, "size": 14, "stroke": "#444", "strokeWidth": 0.9},
                 "encoding": {"x": {"field": "g", "type": "nominal", "sort": ["Col-0","bon1-1","snc1-1","aca4 aca11","aca10 aca8","pGC1::BON1 #3","pGC1::BON1 #4","pGC1::SNC1-1#6","pGC1::SNC1-1#7"]},
                   "y": {"field": "v", "type": "quantitative"}}},
                {"data": {"name": "c1"}, "transform": [{"filter": "datum.st != null"}],
                 "mark": {"type": "text", "fontSize": 13, "color": "#333", "baseline": "middle", "dy": 4},
                 "encoding": {"x": {"field": "g", "type": "nominal", "sort": ["Col-0","bon1-1","snc1-1","aca4 aca11","aca10 aca8","pGC1::BON1 #3","pGC1::BON1 #4","pGC1::SNC1-1#6","pGC1::SNC1-1#7"]},
                   "y": {"field": "sy", "type": "quantitative"}, "text": {"field": "st"}}},
                {"data": {"values": [{"y": -0.527}]},
                 "mark": {"type": "text", "text": "22°C", "font": "Lato", "fontSize": 21, "fontWeight": "bold", "color": "#000", "baseline": "middle", "dx": -4},
                 "encoding": {"x": {"datum": "aca10 aca8"}, "y": {"field": "y", "type": "quantitative"}}},
                {"data": {"values": [{"y": -0.59}]},
                 "mark": {"type": "text", "text": "no inoculation", "font": "Lato", "fontSize": 15, "color": "#000", "baseline": "middle", "dx": -4},
                 "encoding": {"x": {"datum": "aca10 aca8"}, "y": {"field": "y", "type": "quantitative"}}}
              ]
            },
            {
              "width": 107, "height": 197,
              "layer": [
                {"data": {"name": "c2"},
                 "mark": {"type": "bar", "fill": "#c3c3c3", "stroke": "#666", "strokeWidth": 1},
                 "encoding": {
                   "x": {"field": "g", "type": "nominal", "sort": ["Col-0","bon1-1","pGC1::BON1 #4","pGC1::SNC1-1#7"], "scale": {"paddingInner": 0.46, "paddingOuter": 0.866, "align": 0.2},
                         "axis": {"orient": "top", "title": null, "labelAngle": -55, "labelAlign": "left", "labelBaseline": "middle", "labelFont": "Lato", "labelFontSize": 14, "labelColor": "#222", "labelOverlap": false, "labelPadding": 5, "ticks": false, "domain": false,
                                  "labelFontStyle": {"condition": {"test": "datum.value == 'Col-0'", "value": "normal"}, "value": "italic"}}},
                   "y": {"field": "m", "type": "quantitative", "stack": null, "scale": {"domain": [-0.6, 0], "nice": false},
                         "axis": {"title": "Leaf water potential (Mpa)", "tickCount": 6, "labelOverlap": false, "labelExpr": "datum.value < -0.001 ? '-' + format(-datum.value, '.1f') : '0.0'", "labelFontSize": 11.5, "titleFontSize": 11.5, "tickSize": 4, "titlePadding": 2, "domainColor": "#555", "tickColor": "#555"}}
                 }},
                {"data": {"name": "c2"}, "mark": {"type": "rule", "color": "#222", "strokeWidth": 1},
                 "encoding": {"x": {"field": "g", "type": "nominal", "sort": ["Col-0","bon1-1","pGC1::BON1 #4","pGC1::SNC1-1#7"]},
                   "y": {"field": "lo", "type": "quantitative"}, "y2": {"field": "hi"}}},
                {"data": {"name": "c2"}, "mark": {"type": "tick", "orient": "horizontal", "size": 16, "thickness": 1, "color": "#222"},
                 "encoding": {"x": {"field": "g", "type": "nominal", "sort": ["Col-0","bon1-1","pGC1::BON1 #4","pGC1::SNC1-1#7"]},
                   "y": {"field": "lo", "type": "quantitative"}}},
                {"data": {"name": "c2"}, "mark": {"type": "tick", "orient": "horizontal", "size": 16, "thickness": 1, "color": "#222"},
                 "encoding": {"x": {"field": "g", "type": "nominal", "sort": ["Col-0","bon1-1","pGC1::BON1 #4","pGC1::SNC1-1#7"]},
                   "y": {"field": "hi", "type": "quantitative"}}},
                {"data": {"name": "c2d"}, "mark": {"type": "point", "shape": "circle", "filled": false, "size": 14, "stroke": "#444", "strokeWidth": 0.9},
                 "encoding": {"x": {"field": "g", "type": "nominal", "sort": ["Col-0","bon1-1","pGC1::BON1 #4","pGC1::SNC1-1#7"]},
                   "y": {"field": "v", "type": "quantitative"}}},
                {"data": {"name": "c2"}, "transform": [{"filter": "datum.st != null"}],
                 "mark": {"type": "text", "fontSize": 13, "color": "#333", "baseline": "middle", "dy": 4},
                 "encoding": {"x": {"field": "g", "type": "nominal", "sort": ["Col-0","bon1-1","pGC1::BON1 #4","pGC1::SNC1-1#7"]},
                   "y": {"field": "sy", "type": "quantitative"}, "text": {"field": "st"}}},
                {"data": {"values": [{"y": -0.527}]},
                 "mark": {"type": "text", "text": "22°C", "font": "Lato", "fontSize": 21, "fontWeight": "bold", "color": "#000", "baseline": "middle", "dx": -6},
                 "encoding": {"x": {"datum": "pGC1::BON1 #4"}, "y": {"field": "y", "type": "quantitative"}}},
                {"data": {"values": [{"y": -0.59}]},
                 "mark": {"type": "text", "text": "Pst", "font": "Lato", "fontSize": 15, "fontStyle": "italic", "color": "#000", "baseline": "middle", "align": "right", "dx": -17},
                 "encoding": {"x": {"datum": "pGC1::BON1 #4"}, "y": {"field": "y", "type": "quantitative"}}},
                {"data": {"values": [{"y": -0.59}]},
                 "mark": {"type": "text", "text": "DC3000", "font": "Lato", "fontSize": 15, "color": "#000", "baseline": "middle", "align": "left", "dx": -14},
                 "encoding": {"x": {"datum": "pGC1::BON1 #4"}, "y": {"field": "y", "type": "quantitative"}}}
              ]
            },
            {
              "width": 186, "height": 197,
              "title": {"text": "d", "anchor": "start", "frame": "bounds", "font": "Liberation Serif", "fontSize": 18, "fontWeight": "bold", "color": "#000", "dx": 8, "offset": -22},
              "layer": [
                {"data": {"name": "dd"},
                 "mark": {"type": "bar", "fill": "#c3c3c3", "stroke": "#666", "strokeWidth": 1},
                 "encoding": {
                   "x": {"field": "g", "type": "nominal", "sort": ["Col-0","bon1-1","snc1-1","aca4 aca11","aca10 aca8","pGC1::BON1 #3","pGC1::BON1 #4","pGC1::SNC1-1#6","pGC1::SNC1-1#7"], "scale": {"paddingInner": 0.46, "paddingOuter": 0.35},
                         "axis": {"orient": "top", "title": null, "labelAngle": -55, "labelAlign": "left", "labelBaseline": "middle", "labelFont": "Lato", "labelFontSize": 14, "labelColor": "#222", "labelOverlap": false, "labelPadding": 5, "ticks": false, "domain": false,
                                  "labelFontStyle": {"condition": {"test": "datum.value == 'Col-0'", "value": "normal"}, "value": "italic"}}},
                   "y": {"field": "m", "type": "quantitative", "stack": null, "scale": {"domain": [-0.6, 0], "nice": false},
                         "axis": {"title": "Leaf water potential (Mpa)", "tickCount": 6, "labelOverlap": false, "labelExpr": "datum.value < -0.001 ? '-' + format(-datum.value, '.1f') : '0.0'", "labelFontSize": 11.5, "titleFontSize": 11.5, "tickSize": 4, "titlePadding": 2, "domainColor": "#555", "tickColor": "#555"}}
                 }},
                {"data": {"name": "dd"}, "mark": {"type": "rule", "color": "#222", "strokeWidth": 1},
                 "encoding": {"x": {"field": "g", "type": "nominal", "sort": ["Col-0","bon1-1","snc1-1","aca4 aca11","aca10 aca8","pGC1::BON1 #3","pGC1::BON1 #4","pGC1::SNC1-1#6","pGC1::SNC1-1#7"]},
                   "y": {"field": "lo", "type": "quantitative"}, "y2": {"field": "hi"}}},
                {"data": {"name": "dd"}, "mark": {"type": "tick", "orient": "horizontal", "size": 16, "thickness": 1, "color": "#222"},
                 "encoding": {"x": {"field": "g", "type": "nominal", "sort": ["Col-0","bon1-1","snc1-1","aca4 aca11","aca10 aca8","pGC1::BON1 #3","pGC1::BON1 #4","pGC1::SNC1-1#6","pGC1::SNC1-1#7"]},
                   "y": {"field": "lo", "type": "quantitative"}}},
                {"data": {"name": "dd"}, "mark": {"type": "tick", "orient": "horizontal", "size": 16, "thickness": 1, "color": "#222"},
                 "encoding": {"x": {"field": "g", "type": "nominal", "sort": ["Col-0","bon1-1","snc1-1","aca4 aca11","aca10 aca8","pGC1::BON1 #3","pGC1::BON1 #4","pGC1::SNC1-1#6","pGC1::SNC1-1#7"]},
                   "y": {"field": "hi", "type": "quantitative"}}},
                {"data": {"name": "ddd"}, "mark": {"type": "point", "shape": "circle", "filled": false, "size": 14, "stroke": "#444", "strokeWidth": 0.9},
                 "encoding": {"x": {"field": "g", "type": "nominal", "sort": ["Col-0","bon1-1","snc1-1","aca4 aca11","aca10 aca8","pGC1::BON1 #3","pGC1::BON1 #4","pGC1::SNC1-1#6","pGC1::SNC1-1#7"]},
                   "y": {"field": "v", "type": "quantitative"}}},
                {"data": {"name": "dd"}, "transform": [{"filter": "datum.st != null"}],
                 "mark": {"type": "text", "fontSize": 13, "color": "#333", "baseline": "middle", "dy": 4},
                 "encoding": {"x": {"field": "g", "type": "nominal", "sort": ["Col-0","bon1-1","snc1-1","aca4 aca11","aca10 aca8","pGC1::BON1 #3","pGC1::BON1 #4","pGC1::SNC1-1#6","pGC1::SNC1-1#7"]},
                   "y": {"field": "sy", "type": "quantitative"}, "text": {"field": "st"}}},
                {"data": {"values": [{"y": -0.527}]},
                 "mark": {"type": "text", "text": "28°C", "font": "Lato", "fontSize": 21, "fontWeight": "bold", "color": "#000", "baseline": "middle", "dx": -2},
                 "encoding": {"x": {"datum": "pGC1::BON1 #3"}, "y": {"field": "y", "type": "quantitative"}}},
                {"data": {"values": [{"y": -0.59}]},
                 "mark": {"type": "text", "text": "no inoculation", "font": "Lato", "fontSize": 15, "color": "#000", "baseline": "middle", "dx": -2},
                 "encoding": {"x": {"datum": "pGC1::BON1 #3"}, "y": {"field": "y", "type": "quantitative"}}}
              ]
            }
          ]
        }
      ]
    }
  ]
}
